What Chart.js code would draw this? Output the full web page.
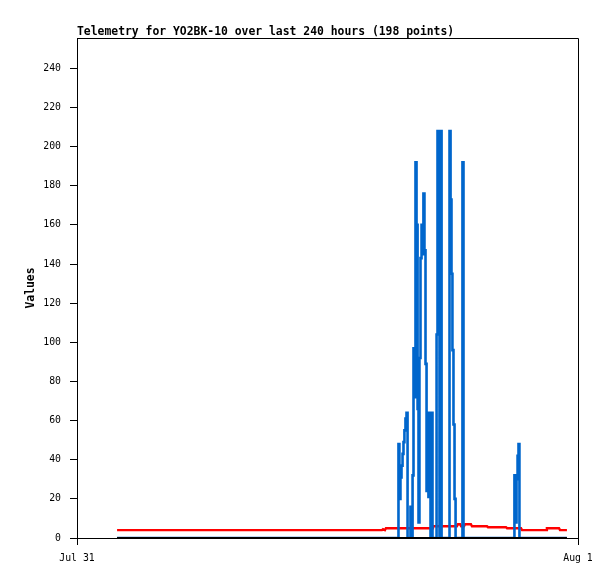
<!DOCTYPE html>
<html lang="en">
<head>
<meta charset="UTF-8">
<title>Telemetry for YO2BK-10</title>
<script src="https://cdn.jsdelivr.net/npm/chart.js"></script>
<style>
  html, body { margin: 0; padding: 0; background: #fff; }
  #wrap { width: 615px; height: 579px; position: relative; }
</style>
</head>
<body>
<div id="wrap"><canvas id="telemetryChart"></canvas></div>
<script>
// hours after Jul 31 00:00
const titleText = 'Telemetry for YO2BK-10 over last 240 hours (198 points)';
const xTickLabels = ['Jul 31', 'Aug 1'];
const yTicks = [0, 20, 40, 60, 80, 100, 120, 140, 160, 180, 200, 220, 240];

const blueHours = [1.92, 15.38, 15.42, 15.47, 15.52, 15.57, 15.62, 15.66, 15.71, 15.76, 15.81, 15.86,
  15.95, 16.00, 16.05, 16.10, 16.14, 16.19, 16.24, 16.29, 16.34, 16.38, 16.43, 16.48, 16.53, 16.57,
  16.62, 16.67, 16.72, 16.77, 16.81, 16.86, 16.91, 16.96, 17.01, 17.05, 17.20, 17.25, 17.29, 17.34,
  17.39, 17.44, 17.49, 17.82, 17.87, 17.92, 17.96, 18.01, 18.06, 18.11, 18.16, 18.44, 18.49, 18.54,
  20.93, 20.98, 21.03, 21.08, 21.13, 21.17, 21.22, 23.47];
const blueValues = [0, 0, 48, 20, 31, 37, 43, 49, 55, 61, 64, 0,
  0, 16, 0, 32, 97, 72, 192, 160, 66, 8, 92, 143, 160, 145,
  176, 147, 89, 24, 64, 21, 64, 0, 64, 0, 0, 104, 208, 104,
  0, 208, 0, 0, 208, 173, 135, 96, 58, 20, 0, 0, 192, 0,
  0, 32, 8, 30, 42, 48, 0, 0];

const redHours = [1.92, 14.61, 14.66, 14.75, 14.80, 17.01, 17.05, 18.20, 18.25, 18.35, 18.40, 18.54,
  18.59, 18.87, 18.92, 19.64, 19.69, 20.55, 20.60, 21.27, 21.32, 22.47, 22.51, 23.09, 23.14, 23.47];
const redValues = [4, 4, 4.5, 4, 5, 5, 6, 6, 7, 7, 6, 6,
  7, 7, 6, 6, 5.5, 5.5, 5, 5, 4, 4, 5, 5, 4, 4];

const blackHours = [1.92, 23.47];
const blackValues = [0, 0];

function pts(xs, ys) {
  return xs.map((x, i) => ({ x: x, y: ys[i] }));
}

const monoFont = '"DejaVu Sans Mono", "Liberation Mono", monospace';

// title + frame round the plot area
const framePlugin = {
  id: 'frame',
  afterDraw(chart) {
    const { ctx, chartArea: a } = chart;
    ctx.save();
    ctx.strokeStyle = '#000';
    ctx.lineWidth = 1;
    ctx.beginPath();
    ctx.moveTo(Math.round(a.left) + 0.5, Math.round(a.top) + 0.5);
    ctx.lineTo(Math.round(a.right) + 0.5, Math.round(a.top) + 0.5);
    ctx.lineTo(Math.round(a.right) + 0.5, Math.round(a.bottom) + 7);
    ctx.stroke();
    ctx.fillStyle = '#000';
    ctx.font = 'bold 11.4px ' + monoFont;
    ctx.textBaseline = 'alphabetic';
    ctx.textAlign = 'left';
    ctx.fillText(titleText, a.left, 35);
    ctx.restore();
  }
};

new Chart(document.getElementById('telemetryChart'), {
  type: 'line',
  data: {
    datasets: [
      { label: 'zero', data: pts(blackHours, blackValues), borderColor: '#000000', borderWidth: 2 },
      { label: 'blue', data: pts(blueHours, blueValues), borderColor: '#0066cc', borderWidth: 2.6, stepped: 'middle' },
      { label: 'red', data: pts(redHours, redValues), borderColor: '#ff0000', borderWidth: 2.4 }
    ]
  },
  options: {
    responsive: true,
    maintainAspectRatio: false,
    animation: false,
    events: [],
    elements: { point: { radius: 0 }, line: { tension: 0, borderCapStyle: 'butt' } },
    layout: { padding: { top: 38, right: 37, left: 0, bottom: 0 } },
    plugins: { legend: { display: false }, tooltip: { enabled: false }, title: { display: false } },
    scales: {
      x: {
        type: 'linear',
        min: 0,
        max: 24,
        afterBuildTicks: s => { s.ticks = [{ value: 0 }, { value: 24 }]; },
        afterFit: s => { s.height = 41; },
        grid: { drawOnChartArea: false, drawTicks: true, tickLength: 7, color: '#000' },
        border: { display: true, color: '#000', width: 1 },
        ticks: {
          color: '#000',
          font: { family: monoFont, size: 9.8 },
          padding: 8,
          maxRotation: 0,
          callback: v => (v === 0 ? xTickLabels[0] : xTickLabels[1])
        }
      },
      y: {
        min: 0,
        max: 255.5,
        afterBuildTicks: s => { s.ticks = yTicks.map(v => ({ value: v })); },
        afterFit: s => { s.width = 77; },
        grid: { drawOnChartArea: false, drawTicks: true, tickLength: 7, color: '#000' },
        border: { display: true, color: '#000', width: 1 },
        ticks: {
          color: '#000',
          font: { family: monoFont, size: 9.8 },
          padding: 9
        },
        title: {
          display: true,
          text: 'Values',
          color: '#000',
          font: { family: monoFont, size: 11.4, weight: 'bold' },
          padding: { top: 24, bottom: 0 }
        }
      }
    }
  },
  plugins: [framePlugin]
});
</script>
</body>
</html>
